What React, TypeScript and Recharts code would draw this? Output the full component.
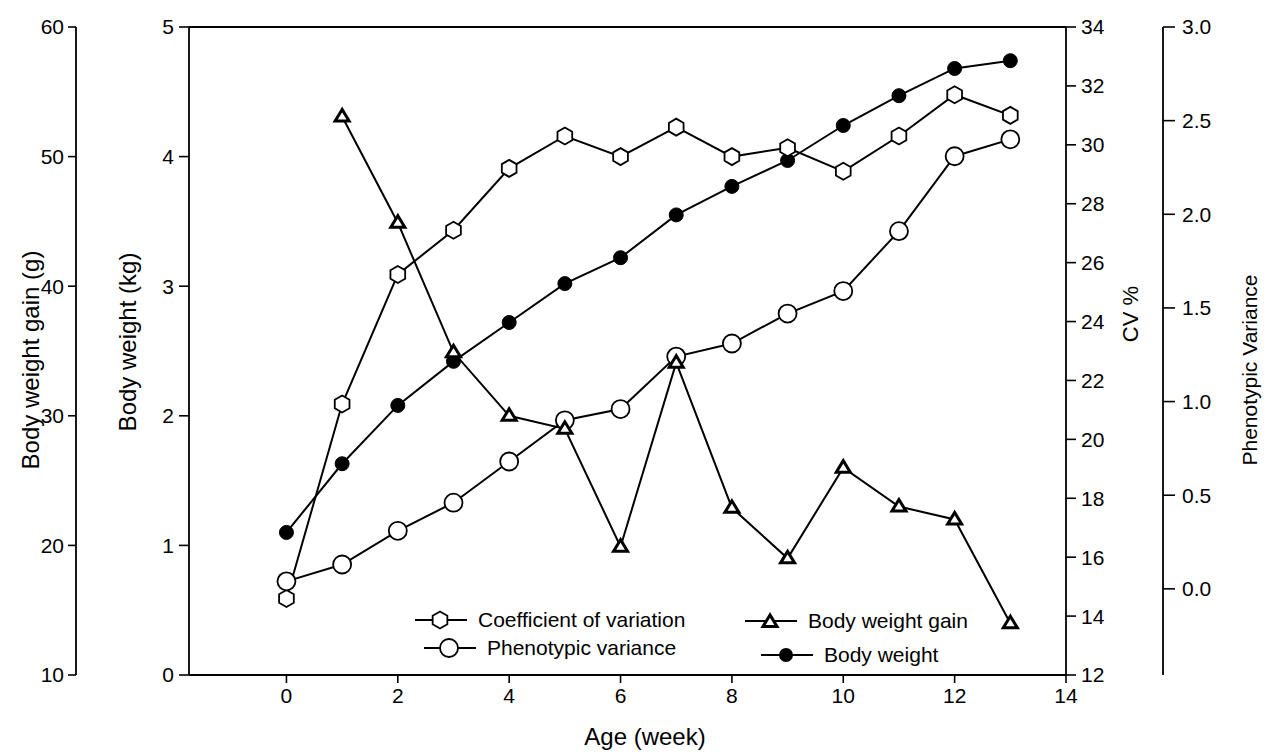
import React from "react";
import { LineChart, Line, XAxis, YAxis, Legend, ReferenceLine } from "recharts";

const FONT = '"Liberation Sans", Arial, sans-serif';

// weeks of age
const weeks = [0, 1, 2, 3, 4, 5, 6, 7, 8, 9, 10, 11, 12, 13];
// body weight (kg)
const bodyWeight = [1.1, 1.63, 2.08, 2.42, 2.72, 3.02, 3.22, 3.55, 3.77, 3.97, 4.24, 4.47, 4.68, 4.74];
// coefficient of variation (%)
const cvPercent = [14.6, 21.2, 25.6, 27.1, 29.2, 30.3, 29.6, 30.6, 29.6, 29.9, 29.1, 30.3, 31.7, 31.0];
// phenotypic variance
const phenoVar = [0.04, 0.13, 0.31, 0.46, 0.68, 0.9, 0.96, 1.24, 1.31, 1.47, 1.59, 1.91, 2.31, 2.4];
// body weight gain (g), no value at week 0
const weightGain = [null, 53.1, 44.9, 34.9, 30.0, 29.0, 19.9, 34.1, 22.9, 19.0, 26.0, 23.0, 22.0, 14.0];

const xTicks = [0, 2, 4, 6, 8, 10, 12, 14];
const bwTicks = [0, 1, 2, 3, 4, 5];
const gainTicks = [10, 20, 30, 40, 50, 60];
const cvTicks = [12, 14, 16, 18, 20, 22, 24, 26, 28, 30, 32, 34];
const pvTicks = [0, 0.5, 1, 1.5, 2, 2.5, 3];

const data = weeks.map((w, i) => ({
  week: w,
  bw: bodyWeight[i],
  cv: cvPercent[i],
  pv: phenoVar[i],
  gain: weightGain[i],
}));

const tickStyle = { fill: "#000", fontSize: 21, fontFamily: FONT };
const axisLine = { stroke: "#000", strokeWidth: 1.8 };
const tickLine = { stroke: "#000", strokeWidth: 1.6 };

function hexPoints(cx: number, cy: number, r: number) {
  return [0, 1, 2, 3, 4, 5]
    .map((i) => {
      const a = (Math.PI / 3) * i - Math.PI / 2;
      return `${cx + r * Math.cos(a)},${cy + r * Math.sin(a)}`;
    })
    .join(" ");
}

function triPoints(cx: number, cy: number) {
  return `${cx},${cy - 7} ${cx - 7},${cy + 4.5} ${cx + 7},${cy + 4.5}`;
}

const HexDot = (p: any) => {
  if (p.cx == null || p.cy == null) return <g key={`h${p.index}`} />;
  return <polygon key={`h${p.index}`} points={hexPoints(p.cx, p.cy, 8.5)} fill="#fff" stroke="#000" strokeWidth={1.8} />;
};

const OpenDot = (p: any) => {
  if (p.cx == null || p.cy == null) return <g key={`o${p.index}`} />;
  return <circle key={`o${p.index}`} cx={p.cx} cy={p.cy} r={9} fill="#fff" stroke="#000" strokeWidth={1.8} />;
};

const FilledDot = (p: any) => {
  if (p.cx == null || p.cy == null) return <g key={`f${p.index}`} />;
  return <circle key={`f${p.index}`} cx={p.cx} cy={p.cy} r={7} fill="#000" stroke="#000" />;
};

const TriDot = (p: any) => {
  if (p.cx == null || p.cy == null) return <g key={`t${p.index}`} />;
  return <polygon key={`t${p.index}`} points={triPoints(p.cx, p.cy)} fill="#fff" stroke="#000" strokeWidth={3} />;
};

const vTitle = (text: string, x: number, y: number, size: number) => () => (
  <text
    x={x}
    y={y}
    transform={`rotate(-90, ${x}, ${y})`}
    textAnchor="middle"
    dominantBaseline="central"
    fontSize={size}
    fontFamily={FONT}
    fill="#000"
  >
    {text}
  </text>
);

const hTitle = (text: string, x: number, y: number, size: number) => () => (
  <text x={x} y={y} textAnchor="middle" dominantBaseline="central" fontSize={size} fontFamily={FONT} fill="#000">
    {text}
  </text>
);

const legendItems = [
  { label: "Coefficient of variation", kind: "hex", left: 414, top: 620 },
  { label: "Body weight gain", kind: "tri", left: 744, top: 621 },
  { label: "Phenotypic variance", kind: "open", left: 423, top: 648 },
  { label: "Body weight", kind: "filled", left: 760, top: 655 },
];

function LegendIcon({ kind }: { kind: string }) {
  const c = 26;
  return (
    <svg width={54} height={22} style={{ display: "block" }}>
      <line x1={1} y1={11} x2={53} y2={11} stroke="#000" strokeWidth={2} />
      {kind === "hex" && <polygon points={hexPoints(c, 11, 8.5)} fill="#fff" stroke="#000" strokeWidth={1.8} />}
      {kind === "open" && <circle cx={c} cy={11} r={9} fill="#fff" stroke="#000" strokeWidth={1.8} />}
      {kind === "filled" && <circle cx={c} cy={11} r={7} fill="#000" />}
      {kind === "tri" && <polygon points={triPoints(c, 12)} fill="#fff" stroke="#000" strokeWidth={3} />}
    </svg>
  );
}

const renderLegend = () => (
  <div style={{ position: "relative", width: 1277, height: 756 }}>
    {legendItems.map((it) => (
      <div
        key={it.label}
        style={{
          position: "absolute",
          left: it.left,
          top: it.top - 11,
          display: "flex",
          alignItems: "center",
          gap: 10,
          fontFamily: FONT,
          fontSize: 21,
          lineHeight: "22px",
          color: "#000",
          whiteSpace: "nowrap",
        }}
      >
        <LegendIcon kind={it.kind} />
        <span>{it.label}</span>
      </div>
    ))}
  </div>
);

export default function App() {
  return (
    <div style={{ position: "absolute", left: 0, top: 0, background: "#fff" }}>
      <LineChart width={1277} height={756} data={data} margin={{ top: 27, right: 14, bottom: 9, left: 0 }}>
        <XAxis
          dataKey="week"
          type="number"
          domain={[-1.75, 14]}
          ticks={xTicks}
          allowDataOverflow
          height={72}
          tickSize={8}
          tickMargin={5}
          tick={tickStyle}
          axisLine={axisLine}
          tickLine={tickLine}
          label={{ content: hTitle("Age (week)", 645, 736, 24) }}
        />
        <YAxis
          yAxisId="bw"
          orientation="left"
          width={113}
          domain={[0, 5]}
          ticks={bwTicks}
          allowDataOverflow
          tickSize={10}
          tickMargin={5}
          tick={tickStyle}
          axisLine={axisLine}
          tickLine={tickLine}
          label={{ content: vTitle("Body weight (kg)", 127, 342, 24) }}
        />
        <YAxis
          yAxisId="gain"
          orientation="left"
          width={76}
          domain={[10, 60]}
          ticks={gainTicks}
          allowDataOverflow
          tickSize={8}
          tickMargin={4}
          tick={tickStyle}
          axisLine={axisLine}
          tickLine={tickLine}
          label={{ content: vTitle("Body weight gain (g)", 30, 360, 24) }}
        />
        <YAxis
          yAxisId="cv"
          orientation="right"
          width={97}
          domain={[12, 34]}
          ticks={cvTicks}
          allowDataOverflow
          tickSize={10}
          tickMargin={5}
          tick={tickStyle}
          axisLine={axisLine}
          tickLine={tickLine}
          label={{ content: vTitle("CV %", 1130, 314, 22) }}
        />
        <YAxis
          yAxisId="pv"
          orientation="right"
          width={100}
          domain={[-0.46, 3]}
          ticks={pvTicks}
          allowDataOverflow
          tickSize={12}
          tickMargin={7}
          tick={tickStyle}
          tickFormatter={(v: number) => v.toFixed(1)}
          axisLine={axisLine}
          tickLine={tickLine}
          label={{ content: vTitle("Phenotypic Variance", 1249, 370, 21) }}
        />
        <ReferenceLine yAxisId="bw" y={5} stroke="#000" strokeWidth={1.8} />
        <Line yAxisId="bw" dataKey="bw" stroke="#000" strokeWidth={2} dot={FilledDot} isAnimationActive={false} />
        <Line yAxisId="cv" dataKey="cv" stroke="#000" strokeWidth={2} dot={HexDot} isAnimationActive={false} />
        <Line yAxisId="pv" dataKey="pv" stroke="#000" strokeWidth={2} dot={OpenDot} isAnimationActive={false} />
        <Line yAxisId="gain" dataKey="gain" stroke="#000" strokeWidth={2} dot={TriDot} isAnimationActive={false} />
        <Legend
          layout="horizontal"
          verticalAlign="middle"
          align="center"
          content={renderLegend}
          wrapperStyle={{ left: 0, top: 0, width: 1277, height: 756, pointerEvents: "none" }}
        />
      </LineChart>
    </div>
  );
}
